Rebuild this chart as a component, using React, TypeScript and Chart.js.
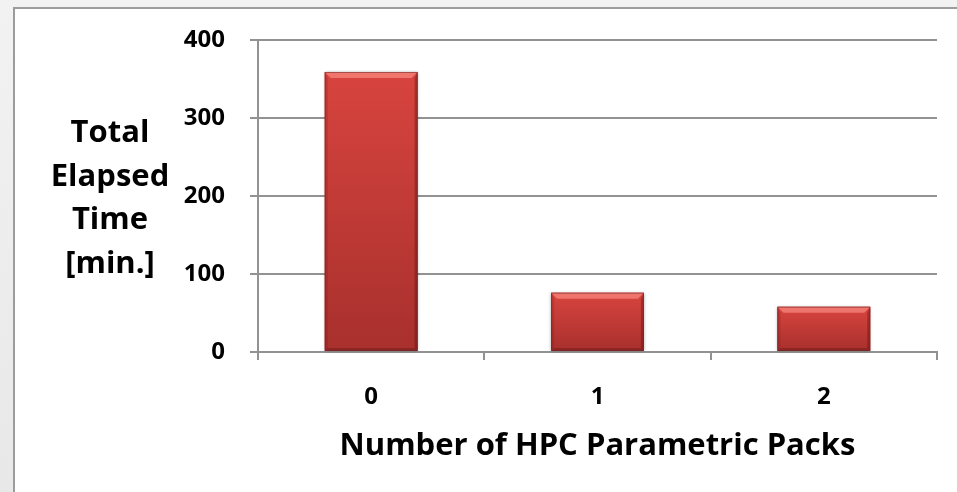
import React, { useEffect, useRef } from "react";
import { Chart, registerables } from "chart.js";

Chart.register(...registerables);

// Elapsed time per number of HPC Parametric Packs
const categories = ["0", "1", "2"];
const elapsedMinutes = [359, 76, 58];
const yTickValues = [0, 100, 200, 300, 400];
const yTitleLines = ["Total", "Elapsed", "Time", "[min.]"];
const xTitle = "Number of HPC Parametric Packs";

const FONT = "'Open Sans', sans-serif";
const GRID = "#929292";

// Draws each bar with a vertical gradient and bevelled edges, using the
// geometry computed by the bar controller.
const bevelBars = {
  id: "bevelBars",
  afterDatasetsDraw(chart: any) {
    const ctx = chart.ctx as CanvasRenderingContext2D;
    const meta = chart.getDatasetMeta(0);
    meta.data.forEach((bar: any) => {
      const { x, y, base, width } = bar.getProps(["x", "y", "base", "width"], true);
      const l = x - width / 2;
      const r = x + width / 2;
      const t = Math.min(y, base);
      const b = Math.max(y, base);
      const h = b - t;
      ctx.save();
      ctx.shadowColor = "rgba(0,0,0,0.35)";
      ctx.shadowBlur = 3;
      const g = ctx.createLinearGradient(0, t, 0, b);
      g.addColorStop(0, "#d8443f");
      g.addColorStop(1, "#a8302d");
      ctx.fillStyle = g;
      ctx.fillRect(l, t, width, h);
      ctx.shadowColor = "transparent";
      ctx.shadowBlur = 0;
      const bev = Math.min(6, h / 4);
      const side = 3;
      // top bevel
      ctx.fillStyle = "rgba(255,150,140,0.6)";
      ctx.beginPath();
      ctx.moveTo(l, t);
      ctx.lineTo(r, t);
      ctx.lineTo(r - bev, t + bev);
      ctx.lineTo(l + bev, t + bev);
      ctx.closePath();
      ctx.fill();
      // left edge
      ctx.fillStyle = "rgba(120,20,20,0.22)";
      ctx.beginPath();
      ctx.moveTo(l, t);
      ctx.lineTo(l + side, t + bev);
      ctx.lineTo(l + side, b - side);
      ctx.lineTo(l, b);
      ctx.closePath();
      ctx.fill();
      // right edge
      ctx.fillStyle = "rgba(90,10,10,0.35)";
      ctx.beginPath();
      ctx.moveTo(r, t);
      ctx.lineTo(r - side, t + bev);
      ctx.lineTo(r - side, b - side);
      ctx.lineTo(r, b);
      ctx.closePath();
      ctx.fill();
      // bottom edge
      ctx.fillStyle = "rgba(80,10,10,0.3)";
      ctx.beginPath();
      ctx.moveTo(l, b);
      ctx.lineTo(l + side, b - side);
      ctx.lineTo(r - side, b - side);
      ctx.lineTo(r, b);
      ctx.closePath();
      ctx.fill();
      ctx.strokeStyle = "rgba(110,40,40,0.55)";
      ctx.lineWidth = 1;
      ctx.strokeRect(l + 0.5, t + 0.5, width - 1, h - 1);
      ctx.restore();
    });
  },
};

// Horizontal, stacked y-axis title to the left of the value labels.
const yTitlePlugin = {
  id: "yTitleStack",
  afterDraw(chart: any) {
    const ctx = chart.ctx as CanvasRenderingContext2D;
    ctx.save();
    ctx.font = `bold 31px ${FONT}`;
    ctx.fillStyle = "#000";
    ctx.textAlign = "center";
    ctx.textBaseline = "alphabetic";
    const cx = chart.chartArea.left - 148;
    const firstBaseline = 142;
    const step = 43.7;
    yTitleLines.forEach((line, i) => {
      ctx.fillText(line, cx, firstBaseline + i * step);
    });
    ctx.restore();
  },
};

export default function App() {
  const canvasRef = useRef<HTMLCanvasElement | null>(null);

  useEffect(() => {
    if (!canvasRef.current) return;
    const chart = new Chart(canvasRef.current, {
      type: "bar",
      data: {
        labels: categories,
        datasets: [
          {
            data: elapsedMinutes,
            backgroundColor: "#c53b37",
            borderWidth: 0,
            barPercentage: 0.41,
            categoryPercentage: 1,
          },
        ],
      },
      options: {
        animation: false,
        responsive: false,
        devicePixelRatio: 1,
        layout: { padding: { left: 0, right: 20, top: 40, bottom: 0 } },
        plugins: {
          legend: { display: false },
          tooltip: { enabled: false },
        },
        scales: {
          x: {
            grid: {
              offset: true,
              drawOnChartArea: false,
              drawTicks: true,
              tickLength: 8,
              color: GRID,
              lineWidth: 2,
            },
            border: { display: true, color: GRID, width: 2 },
            ticks: {
              color: "#000",
              font: { family: FONT, size: 24, weight: "bold" },
              padding: 23,
            },
            title: {
              display: true,
              text: xTitle,
              color: "#000",
              font: { family: FONT, size: 31, weight: "bold" },
              padding: { top: 0, bottom: 27 },
            },
            afterFit(scale: any) {
              scale.height = 140;
            },
          },
          y: {
            min: 0,
            max: 400,
            afterBuildTicks(scale: any) {
              scale.ticks = yTickValues.map((v) => ({ value: v }));
            },
            grid: {
              color: GRID,
              lineWidth: 2,
              drawTicks: true,
              tickLength: 8,
            },
            border: { display: true, color: GRID, width: 2 },
            ticks: {
              color: "#000",
              font: { family: FONT, size: 24, weight: "bold" },
              padding: 25,
            },
            afterFit(scale: any) {
              scale.width = 258;
            },
          },
        },
      },
      plugins: [bevelBars, yTitlePlugin],
    });
    return () => chart.destroy();
  }, []);

  return (
    <div
      style={{
        position: "fixed",
        left: 0,
        top: 0,
        width: 957,
        height: 492,
        overflow: "hidden",
        background: "linear-gradient(#f2f2f2, #e8e8e8)",
      }}
    >
      <div
        style={{
          position: "absolute",
          left: 13,
          top: 7,
          width: 960,
          height: 500,
          background: "#fff",
          borderLeft: "2px solid #9c9c9c",
          borderTop: "2px solid #9c9c9c",
          boxSizing: "border-box",
        }}
      />
      <canvas
        ref={canvasRef}
        width={957}
        height={492}
        style={{ position: "absolute", left: 0, top: 0 }}
      />
    </div>
  );
}
